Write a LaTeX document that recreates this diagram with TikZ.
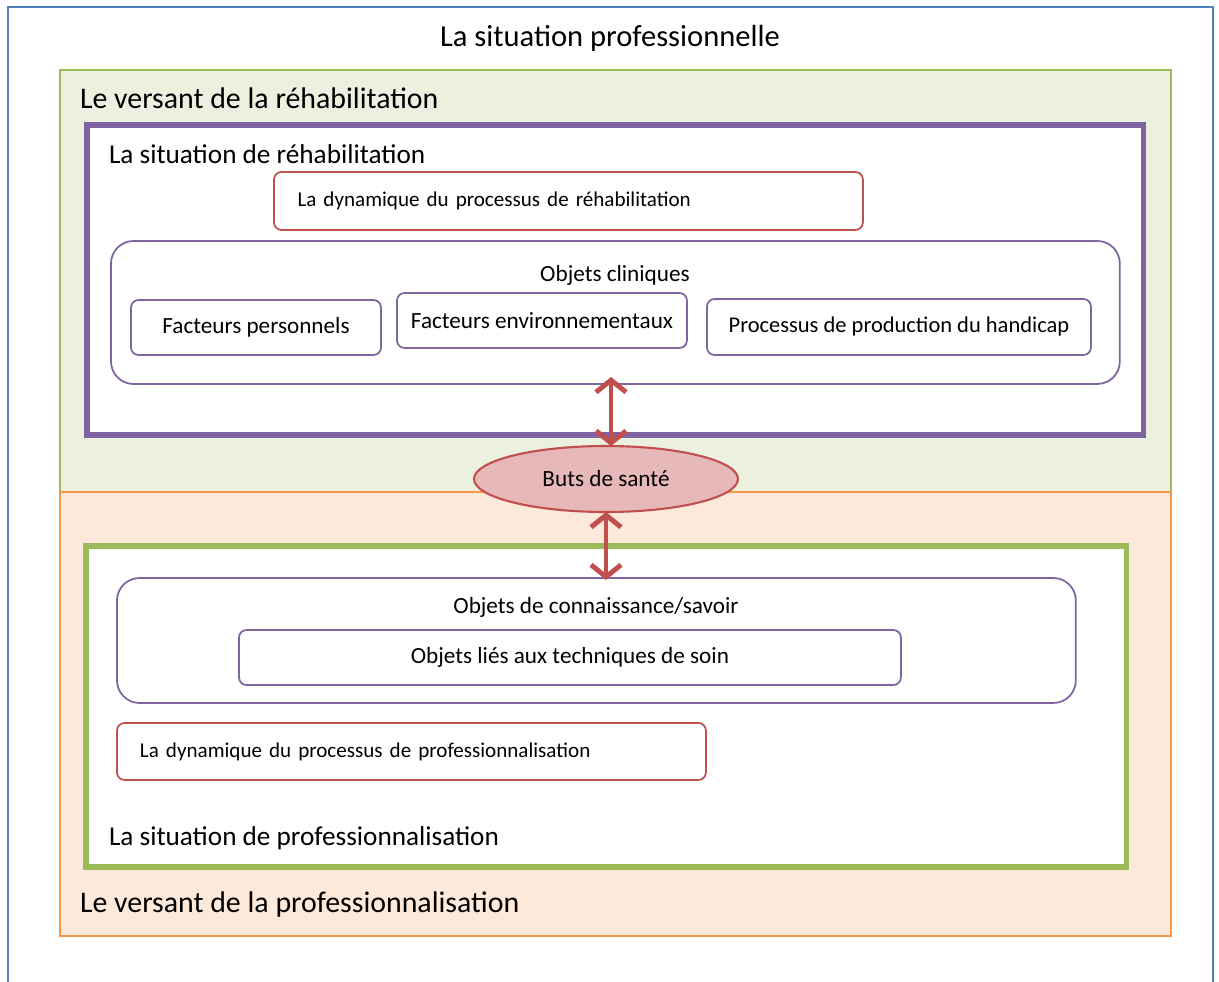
\documentclass[tikz,border=0pt]{standalone}
\usepackage{fontspec}
\setmainfont{Carlito}
\usetikzlibrary{shapes.geometric,arrows.meta}

\definecolor{bleu}{HTML}{4F81BD}
\definecolor{vert}{HTML}{9BBB59}
\definecolor{vertpale}{HTML}{EBF1DE}
\definecolor{orange}{HTML}{F79646}
\definecolor{orangepale}{HTML}{FDE9D9}
\definecolor{violet}{HTML}{8064A2}
\definecolor{rouge}{HTML}{C0504D}
\definecolor{rose}{HTML}{E6B9B8}

\begin{document}
\begin{tikzpicture}[
	x = 0.02cm, y = -0.02cm,
	every node/.style = {inner sep = 0pt, outer sep = 0pt, text = black},
	versant/.style = {draw, line width = 1pt, anchor = north west, minimum width = 22.22cm},
	cadre/.style = {draw, line width = 3pt, fill = white, anchor = north west},
	objets/.style = {draw = violet, line width = 1pt, rounded corners = 0.45cm, fill = white, anchor = north west},
	facteur/.style = {draw = violet, line width = 1pt, rounded corners = 0.15cm, fill = white, anchor = north west, minimum height = 1.1cm, font = \fontsize{13.2}{15}\selectfont},
	dynamique/.style = {draw = rouge, line width = 1pt, rounded corners = 0.15cm, fill = white, anchor = north west, align = left, inner xsep = 0.47cm, font = \fontsize{12}{14}\selectfont},
	titre/.style = {font = \fontsize{17.4}{20}\selectfont},
	titreversant/.style = {anchor = west, font = \fontsize{17}{20}\selectfont},
	soustitre/.style = {anchor = west, font = \fontsize{15.5}{18}\selectfont},
	lien/.style = {rouge, line width = 2.8pt, {Straight Barb[length=2.4mm,width=6mm]}-{Straight Barb[length=2.4mm,width=6mm]}}
	]

	\clip (0,0) rectangle (1219,982);
	\draw[bleu, line width = 1pt] (8,7) rectangle (1213,1000);
	\node[titre] (situation) at (610,38) {La situation professionnelle};

	% les deux versants
	\node[versant, draw = vert, fill = vertpale, minimum height = 8.44cm] (rehab) at (60,70) {};
	\node[versant, draw = orange, fill = orangepale, minimum height = 8.88cm] (pro) at (60,492) {};
	\node[titreversant] (titrerehab) at (80,98) {Le versant de la réhabilitation};
	\node[titreversant] (titrepro) at (80,905) {Le versant de la professionnalisation};

	% situation de rehabilitation
	\node[cadre, draw = violet, minimum width = 21.14cm, minimum height = 6.2cm] (sitrehab) at (87,125) {};
	\node[soustitre] (titresitrehab) at (109,154) {La situation de réhabilitation};
	\node[dynamique, text width = 10.84cm, minimum height = 1.16cm] (dynrehab) at (274,172) {La dynamique du processus de réhabilitation};
	\node[objets, minimum width = 20.18cm, minimum height = 2.86cm] (cliniques) at (111,241) {};
	\node[font = \fontsize{13.2}{15}\selectfont] (titrecliniques) at (615,275) {Objets cliniques};
	\node[facteur, minimum width = 5cm] (personnels) at (131,300) {Facteurs personnels};
	\node[facteur, minimum width = 5.8cm] (environnementaux) at (397,293) {Facteurs environnementaux};
	\node[facteur, minimum width = 7.68cm, minimum height = 1.12cm, font = \fontsize{12.8}{15}\selectfont] (handicap) at (707,299) {Processus de production du handicap};

	% situation de professionnalisation
	\node[cadre, draw = vert, minimum width = 20.82cm, minimum height = 6.42cm] (sitpro) at (86,546) {};
	\node[objets, minimum width = 19.18cm, minimum height = 2.5cm] (savoir) at (117,578) {};
	\node[font = \fontsize{13.2}{15}\selectfont] (titresavoir) at (596,607) {Objets de connaissance/savoir};
	\node[facteur, minimum width = 13.24cm] (soin) at (239,630) {Objets liés aux techniques de soin};
	\node[dynamique, text width = 10.86cm, minimum height = 1.14cm, inner xsep = 0.46cm] (dynpro) at (117,723) {La dynamique du processus de professionnalisation};
	\node[soustitre] (titresitpro) at (109,838) {La situation de professionnalisation};

	% buts de sante
	\node[ellipse, draw = rouge, line width = 1.2pt, fill = rose, minimum width = 5.28cm, minimum height = 1.32cm, font = \fontsize{13.2}{15}\selectfont] (sante) at (606,479) {Buts de santé};
	\coordinate (haut) at (611,377);
	\coordinate (bas) at (606,580);
	\draw[lien] (haut) -- (sante.north -| haut);
	\draw[lien] (sante.south) -- (bas);
\end{tikzpicture}
\end{document}
